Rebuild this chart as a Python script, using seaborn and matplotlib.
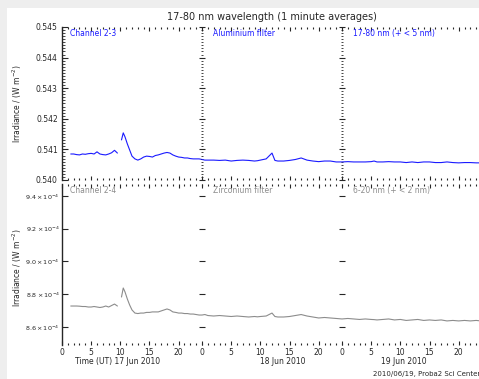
import numpy as np
import pandas as pd
import matplotlib
matplotlib.use("Agg")
import matplotlib.pyplot as plt
from matplotlib.patches import Rectangle
from matplotlib.ticker import MultipleLocator
import seaborn as sns

sns.set_style("ticks")
plt.rcParams['font.family'] = ['DejaVu Sans']

# ---------------- data ----------------
hours = [1.5, 2.0, 2.5, 3.0, 3.5, 4.0, 4.5, 5.0, 5.5, 6.0, 6.5, 7.0, 7.5, 8.0, 8.5, 9.0, 9.5, 9.8,
         10.2, 10.5, 10.8, 11.2, 11.6, 12.0, 12.5, 13.0, 13.5, 14.0, 14.5, 15.0, 15.5, 16.0, 16.5,
         17.0, 17.5, 18.0, 18.5, 19.0, 19.5, 20.0, 20.5, 21.0, 21.5, 22.0, 22.5, 23.0, 23.5, 24.0,
         24.5, 25.0, 26.0, 27.0, 28.0, 29.0, 30.0, 31.0, 32.0, 33.0, 33.5, 34.0, 35.0, 36.0, 36.5,
         37.0, 38.0, 39.0, 40.0, 41.0, 42.0, 43.0, 44.0, 45.0, 46.0, 47.0, 48.0, 49.0, 50.0, 51.0,
         52.0, 53.0, 53.5, 54.0, 55.0, 56.0, 57.0, 58.0, 59.0, 60.0, 61.0, 62.0, 63.0, 64.0, 65.0,
         66.0, 67.0, 68.0, 69.0, 70.0, 71.0, 71.8]

aluminium = [0.54085, 0.54085, 0.54083, 0.54082, 0.54085, 0.54084, 0.54086, 0.54087, 0.54085, 0.54092,
             0.54085, 0.54083, 0.54082, 0.54085, 0.54089, 0.54097, 0.54088, np.nan,
             0.54131, 0.54154, 0.54141, 0.54118, 0.54098, 0.54078, 0.54069, 0.54065, 0.54069, 0.54075,
             0.54078, 0.54077, 0.54075, 0.54080, 0.54082, 0.54085, 0.54088, 0.54090, 0.54088, 0.54082,
             0.54078, 0.54075, 0.54074, 0.54072, 0.54072, 0.54070, 0.54069, 0.54069, 0.54069, 0.54067,
             0.54065, 0.54065, 0.54065, 0.54064, 0.54065, 0.54062, 0.54064, 0.54065, 0.54064, 0.54062,
             0.54063, 0.54065, 0.54069, 0.54088, 0.54064, 0.54062, 0.54062, 0.54064, 0.54067, 0.54072,
             0.54065, 0.54062, 0.54060, 0.54062, 0.54062, 0.54059, 0.54059, 0.54060, 0.54059, 0.54059,
             0.54059, 0.54060, 0.54062, 0.54059, 0.54059, 0.54060, 0.54059, 0.54059, 0.54057, 0.54059,
             0.54057, 0.54059, 0.54059, 0.54057, 0.54057, 0.54059, 0.54057, 0.54056, 0.54057, 0.54057,
             0.54056, 0.54056]

# zirconium channel, in units of 1e-4 W m^-2
zirconium = [8.728, 8.728, 8.728, 8.727, 8.725, 8.725, 8.722, 8.722, 8.725, 8.722, 8.719, 8.722,
             8.728, 8.722, 8.731, 8.740, 8.728, np.nan,
             8.783, 8.838, 8.814, 8.771, 8.734, 8.704, 8.685, 8.682, 8.685, 8.685, 8.689, 8.689,
             8.692, 8.692, 8.692, 8.698, 8.704, 8.710, 8.704, 8.692, 8.689, 8.685, 8.685, 8.682,
             8.682, 8.679, 8.679, 8.676, 8.673, 8.673, 8.676, 8.670, 8.667, 8.670, 8.667, 8.664,
             8.667, 8.664, 8.661, 8.664, 8.662, 8.664, 8.667, 8.685, 8.664, 8.661, 8.661, 8.664,
             8.670, 8.676, 8.667, 8.661, 8.655, 8.658, 8.655, 8.652, 8.649, 8.652, 8.649, 8.646,
             8.649, 8.646, 8.645, 8.643, 8.646, 8.649, 8.643, 8.646, 8.640, 8.643, 8.646, 8.640,
             8.643, 8.640, 8.643, 8.637, 8.640, 8.637, 8.640, 8.637, 8.640, 8.637]

hour_ticks = [0, 5, 10, 15, 20]
day_labels = ["Time (UT) 17 Jun 2010", "18 Jun 2010", "19 Jun 2010"]
top_ticks = [0.540, 0.541, 0.542, 0.543, 0.544, 0.545]
bot_ticks = [8.6, 8.8, 9.0, 9.2, 9.4]
top_titles = ["Channel 2-3", "Aluminium filter", "17-80 nm (+ < 5 nm)"]
bot_titles = ["Channel 2-4", "Zirconium filter", "6-20 nm (+ < 2 nm)"]
title = "17-80 nm wavelength (1 minute averages)"
footer = "2010/06/19, Proba2 Sci Center"

# ---------------- build frame ----------------
df = pd.DataFrame({"hour": hours, "alu": aluminium, "zr": zirconium})
df["seg"] = df["alu"].isna().cumsum()
df = df.dropna()

W, H = 479, 379
fig = plt.figure(figsize=(W / 100, H / 100), dpi=100, facecolor="white")
fig.patches.append(Rectangle((0, 1 - 8 / H), 1, 8 / H, transform=fig.transFigure,
                             facecolor="#eeeeee", edgecolor="none", zorder=-5))
fig.patches.append(Rectangle((0, 0), 7 / W, 1, transform=fig.transFigure,
                             facecolor="#eeeeee", edgecolor="none", zorder=-5))


def px_axes(x0, y0, x1, y1):
    return fig.add_axes([x0 / W, 1 - y1 / H, (x1 - x0) / W, (y1 - y0) / H])


blue = "#1a1aff"
grey = "#8c8c8c"
rows = [(27, 180, "alu", blue, top_titles), (184, 345, "zr", grey, bot_titles)]

for r, (y0, y1, col, color, titles) in enumerate(rows):
    for i in range(3):
        ax = px_axes(62 + 140 * i, y0, 62 + 140 * (i + 1), y1)
        ax.set_facecolor("none")
        sns.lineplot(data=df, x="hour", y=col, units="seg", estimator=None,
                     color=color, lw=0.8, ax=ax, legend=False)
        ax.set_xlim(24 * i, 24 * (i + 1))
        ax.set_xlabel("")
        ax.set_ylabel("")
        for s in ["top", "bottom", "right"]:
            ax.spines[s].set_visible(False)
        ax.spines["left"].set_visible(i == 0)
        ax.spines["left"].set_linewidth(1.0)
        ax.set_xticks([24 * i + h for h in hour_ticks])
        ax.xaxis.set_minor_locator(MultipleLocator(1))
        if r == 1:
            ax.set_xticklabels([str(h) for h in hour_ticks])
        else:
            ax.set_xticklabels([])
        ax.tick_params(axis="x", which="major", direction="in", top=True, bottom=True,
                       length=3, width=0.8, labelsize=5.5, pad=2)
        ax.tick_params(axis="x", which="minor", direction="in", top=True, bottom=True,
                       length=1.5, width=0.8)
        if r == 0:
            ax.set_ylim(0.540, 0.545)
            ax.set_yticks(top_ticks)
            ax.yaxis.set_minor_locator(MultipleLocator(0.0001))
            ax.set_yticklabels([f"{v:.3f}" for v in top_ticks])
            lsize, lpad = 5.5, 3
        else:
            ax.set_ylim(8.49, 9.473)
            ax.set_yticks(bot_ticks)
            ax.set_yticklabels([rf"${v:.1f}\times10^{{-4}}$" for v in bot_ticks])
            lsize, lpad = 4.6, 1.5
        d = "in" if i == 0 else "inout"
        ax.tick_params(axis="y", which="major", direction=d, length=4, width=0.8,
                       labelsize=lsize, labelleft=(i == 0), pad=lpad)
        ax.tick_params(axis="y", which="minor", direction=d, length=2, width=0.6)
        ax.text(0.06 if i == 0 else 0.08, 0.985, titles[i], transform=ax.transAxes,
                color=color, fontsize=5.5, va="top", ha="left")

fig.text(272 / W, 1 - 17 / H, title, ha="center", va="center", fontsize=7)
fig.text(17 / W, 1 - 104 / H, "Irradiance / (W m$^{-2}$)", rotation=90,
         ha="center", va="center", fontsize=5.5)
fig.text(17 / W, 1 - 268 / H, "Irradiance / (W m$^{-2}$)", rotation=90,
         ha="center", va="center", fontsize=5.5)
for x, lab in zip([118, 283, 404], day_labels):
    fig.text(x / W, 1 - 361 / H, lab, ha="center", va="center", fontsize=5.5)
fig.text(373 / W, 1 - 374 / H, footer, ha="left", va="center", fontsize=5)

fig.savefig("out.png", dpi=100)
